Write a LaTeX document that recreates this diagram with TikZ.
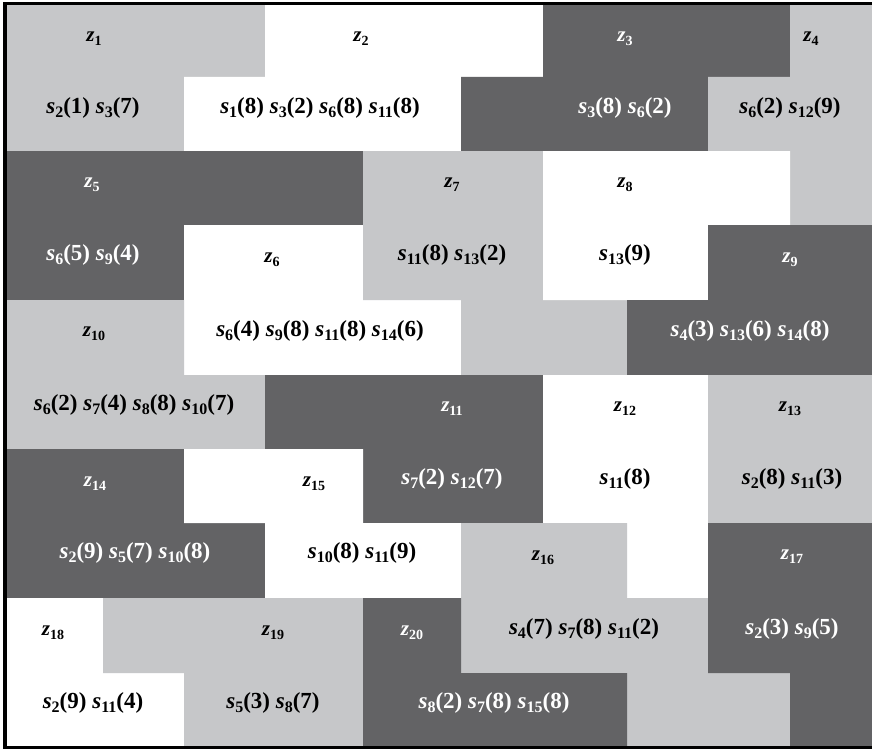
\documentclass[tikz,border=0pt]{standalone}
\usepackage{fontspec}
\setmainfont{Liberation Serif}
\usepackage{xcolor}
\usetikzlibrary{positioning}

\definecolor{zonegray}{HTML}{C6C7C9}
\definecolor{zonedark}{HTML}{636365}

\newcommand{\sv}[2]{\textit{s}\raisebox{-0.35ex}{\fontsize{16}{16}\selectfont #1}(#2)}
\newcommand{\zv}[1]{\textit{z}\raisebox{-0.4ex}{\fontsize{14}{14}\selectfont #1}}

\begin{document}
\begin{tikzpicture}[
  x=1pt, y=-1pt,
  light/.style={fill=zonegray},
  dark/.style={fill=zonedark},
  blank/.style={fill=white},
  zlab/.style={font=\fontsize{21}{23}\selectfont\bfseries, inner sep=0pt},
  slab/.style={font=\fontsize{23}{26}\selectfont\bfseries, inner sep=0pt},
  ondark/.style={text=white}
]
\useasboundingbox (0,0) rectangle (872,749);

% zones
\fill[light] (5,5) -- (265,5) -- (265,77) -- (184,77) -- (184,151) -- (5,151) -- cycle;
\fill[blank] (265,5) -- (543,5) -- (543,77) -- (461,77) -- (461,151) -- (184,151) -- (184,77) -- (265,77) -- cycle;
\fill[dark] (543,5) -- (790,5) -- (790,77) -- (708,77) -- (708,151) -- (461,151) -- (461,77) -- (543,77) -- cycle;
\fill[light] (790,5) -- (872,5) -- (872,225) -- (790,225) -- (790,151) -- (708,151) -- (708,77) -- (790,77) -- cycle;
\fill[dark] (5,151) -- (363,151) -- (363,225) -- (184,225) -- (184,300) -- (5,300) -- cycle;
\fill[blank] (184,225) -- (363,225) -- (363,300) -- (461,300) -- (461,375) -- (184,375) -- cycle;
\fill[light] (363,151) -- (543,151) -- (543,300) -- (627,300) -- (627,375) -- (461,375) -- (461,300) -- (363,300) -- cycle;
\fill[blank] (543,151) -- (790,151) -- (790,225) -- (708,225) -- (708,300) -- (543,300) -- cycle;
\fill[dark] (708,225) -- (872,225) -- (872,375) -- (627,375) -- (627,300) -- (708,300) -- cycle;
\fill[light] (5,300) -- (184,300) -- (184,375) -- (265,375) -- (265,449) -- (5,449) -- cycle;
\fill[dark] (265,375) -- (543,375) -- (543,523) -- (363,523) -- (363,449) -- (265,449) -- cycle;
\fill[blank] (543,375) -- (708,375) -- (708,598) -- (627,598) -- (627,523) -- (543,523) -- cycle;
\fill[light] (708,375) -- (872,375) -- (872,523) -- (708,523) -- cycle;
\fill[dark] (5,449) -- (184,449) -- (184,523) -- (265,523) -- (265,598) -- (5,598) -- cycle;
\fill[blank] (184,449) -- (363,449) -- (363,523) -- (461,523) -- (461,598) -- (265,598) -- (265,523) -- (184,523) -- cycle;
\fill[light] (461,523) -- (627,523) -- (627,598) -- (708,598) -- (708,673) -- (790,673) -- (790,746) -- (627,746) -- (627,673) -- (461,673) -- cycle;
\fill[dark] (708,523) -- (872,523) -- (872,746) -- (790,746) -- (790,673) -- (708,673) -- cycle;
\fill[blank] (5,598) -- (103,598) -- (103,673) -- (184,673) -- (184,746) -- (5,746) -- cycle;
\fill[light] (103,598) -- (363,598) -- (363,746) -- (184,746) -- (184,673) -- (103,673) -- cycle;
\fill[dark] (363,598) -- (461,598) -- (461,673) -- (627,673) -- (627,746) -- (363,746) -- cycle;

% frame
\draw[line width=3.5pt] (872,3.5) -- (5,3.5) -- (5,747.5) -- (872,747.5);

% zone names
\node[zlab] (z1) at (94,39) {\zv{1}};
\node[zlab] (z2) at (361,39) {\zv{2}};
\node[zlab, ondark] (z3) at (625,39) {\zv{3}};
\node[zlab] (z4) at (811,39) {\zv{4}};
\node[zlab, ondark] (z5) at (92,185) {\zv{5}};
\node[zlab] (z6) at (272,260) {\zv{6}};
\node[zlab] (z7) at (452,185) {\zv{7}};
\node[zlab] (z8) at (625,185) {\zv{8}};
\node[zlab, ondark] (z9) at (790,260) {\zv{9}};
\node[zlab] (z10) at (94,334) {\zv{10}};
\node[zlab, ondark] (z11) at (452,409) {\zv{11}};
\node[zlab] (z12) at (625,409) {\zv{12}};
\node[zlab] (z13) at (790,409) {\zv{13}};
\node[zlab, ondark] (z14) at (95,484) {\zv{14}};
\node[zlab] (z15) at (314,484) {\zv{15}};
\node[zlab] (z16) at (543,558) {\zv{16}};
\node[zlab, ondark] (z17) at (792,557) {\zv{17}};
\node[zlab] (z18) at (53,633) {\zv{18}};
\node[zlab] (z19) at (273,633) {\zv{19}};
\node[zlab, ondark] (z20) at (412,633) {\zv{20}};

% stations in each zone
\node[slab] (s1) at (93,108) {\sv{2}{1} \sv{3}{7}};
\node[slab] (s2) at (320,108) {\sv{1}{8} \sv{3}{2} \sv{6}{8} \sv{11}{8}};
\node[slab, ondark] (s3) at (625,108) {\sv{3}{8} \sv{6}{2}};
\node[slab] (s4) at (790,108) {\sv{6}{2} \sv{12}{9}};
\node[slab, ondark] (s5) at (93,255) {\sv{6}{5} \sv{9}{4}};
\node[slab] (s6) at (320,331) {\sv{6}{4} \sv{9}{8} \sv{11}{8} \sv{14}{6}};
\node[slab] (s7) at (452,255) {\sv{11}{8} \sv{13}{2}};
\node[slab] (s8) at (625,255) {\sv{13}{9}};
\node[slab, ondark] (s9) at (750,331) {\sv{4}{3} \sv{13}{6} \sv{14}{8}};
\node[slab] (s10) at (134,405) {\sv{6}{2} \sv{7}{4} \sv{8}{8} \sv{10}{7}};
\node[slab, ondark] (s11) at (452,479) {\sv{7}{2} \sv{12}{7}};
\node[slab] (s12) at (625,479) {\sv{11}{8}};
\node[slab] (s13) at (792,479) {\sv{2}{8} \sv{11}{3}};
\node[slab, ondark] (s14) at (135,553) {\sv{2}{9} \sv{5}{7} \sv{10}{8}};
\node[slab] (s15) at (362,553) {\sv{10}{8} \sv{11}{9}};
\node[slab] (s16) at (584,629) {\sv{4}{7} \sv{7}{8} \sv{11}{2}};
\node[slab, ondark] (s17) at (792,629) {\sv{2}{3} \sv{9}{5}};
\node[slab] (s18) at (93,703) {\sv{2}{9} \sv{11}{4}};
\node[slab] (s19) at (273,703) {\sv{5}{3} \sv{8}{7}};
\node[slab, ondark] (s20) at (494,703) {\sv{8}{2} \sv{7}{8} \sv{15}{8}};
\end{tikzpicture}
\end{document}
